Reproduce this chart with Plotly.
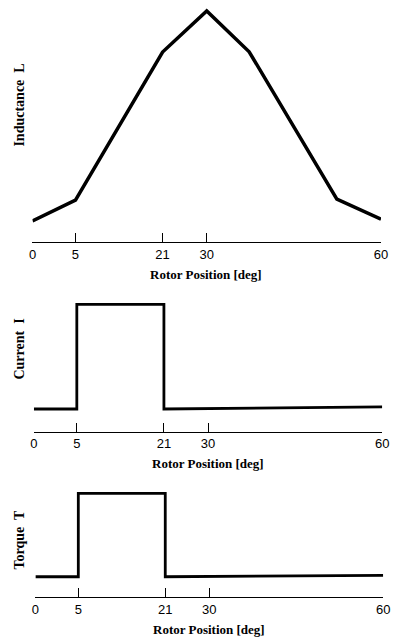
import plotly.graph_objects as go

# Schematic rotor-position axis: tick labels and where they sit along the axis
tick_labels = ["0", "5", "21", "30", "60"]
tick_pos = [0, 7.4, 22.4, 30, 60]

# Inductance profile (normalized units)
ind_x = [0, 7.4, 22.4, 30, 37.3, 52.4, 60]
ind_y = [0.090, 0.178, 0.802, 0.975, 0.803, 0.182, 0.097]

# Current pulse
cur_x = [0, 7.4, 7.4, 22.4, 22.4, 60]
cur_y = [0.166, 0.166, 0.932, 0.932, 0.166, 0.181]

# Torque pulse
tor_x = [0, 7.4, 7.4, 22.4, 22.4, 60]
tor_y = [0.183, 0.183, 0.926, 0.926, 0.183, 0.196]

W, H = 398, 639

fig = go.Figure()
fig.add_trace(go.Scatter(x=ind_x, y=ind_y, mode="lines",
                         line=dict(color="black", width=3.5), xaxis="x", yaxis="y"))
fig.add_trace(go.Scatter(x=cur_x, y=cur_y, mode="lines",
                         line=dict(color="black", width=2.8), xaxis="x2", yaxis="y2"))
fig.add_trace(go.Scatter(x=tor_x, y=tor_y, mode="lines",
                         line=dict(color="black", width=2.8), xaxis="x3", yaxis="y3"))

def px_x(p):
    return p / W

def px_y(p):
    return 1 - p / H

tick_font = dict(family="Liberation Sans, Arial, sans-serif", size=13, color="black")

def xax(domain):
    return dict(domain=domain, range=[0, 60], tickvals=tick_pos, ticktext=tick_labels,
                showgrid=False, zeroline=False, showline=True, linecolor="black",
                linewidth=1, ticks="inside", ticklen=9, tickwidth=1, tickcolor="black",
                tickfont=tick_font, fixedrange=True)

def yax(domain, anchor):
    return dict(domain=domain, range=[0, 1], visible=False, anchor=anchor, fixedrange=True)

panels = [
    # (x domain px, y top px, axis line px)
    ((29.3, 387.7), 5, 242.3),
    ((30.7, 389.0), 295, 431.7),
    ((32.3, 390.0), 485, 597.3),
]

layout = dict(width=W, height=H, margin=dict(l=0, r=0, t=0, b=0),
              paper_bgcolor="white", plot_bgcolor="white", showlegend=False)

names = ["", "2", "3"]
for n, ((xl, xr), yt, yb) in zip(names, panels):
    layout["xaxis" + n] = xax([px_x(xl), px_x(xr)])
    layout["xaxis" + n]["anchor"] = "y" + n
    layout["yaxis" + n] = yax([px_y(yb), px_y(yt)], "x" + n)

fig.update_layout(**layout)

title_font = dict(family="Liberation Serif, Times New Roman, serif", size=13, color="black")
ytitle_font = dict(family="Liberation Serif, Times New Roman, serif", size=14, color="black")

x_titles_y = [274, 463, 629]
x_titles_x = [208, 210, 211]
for xt, yt in zip(x_titles_x, x_titles_y):
    fig.add_annotation(text="<b>Rotor Position [deg]</b>", x=px_x(xt), y=px_y(yt),
                       xref="paper", yref="paper", showarrow=False,
                       xanchor="center", yanchor="middle", font=title_font)

y_titles = [("Inductance  L", 105), ("Current  I", 349), ("Torque  T", 540)]
for txt, yc in y_titles:
    fig.add_annotation(text="<b>" + txt + "</b>", x=px_x(15), y=px_y(yc),
                       xref="paper", yref="paper", showarrow=False, textangle=-90,
                       xanchor="center", yanchor="middle", font=ytitle_font)

fig.write_html("out.html", config=dict(displayModeBar=False),
               post_script="document.body.style.margin='0';document.body.style.overflow='hidden';")
